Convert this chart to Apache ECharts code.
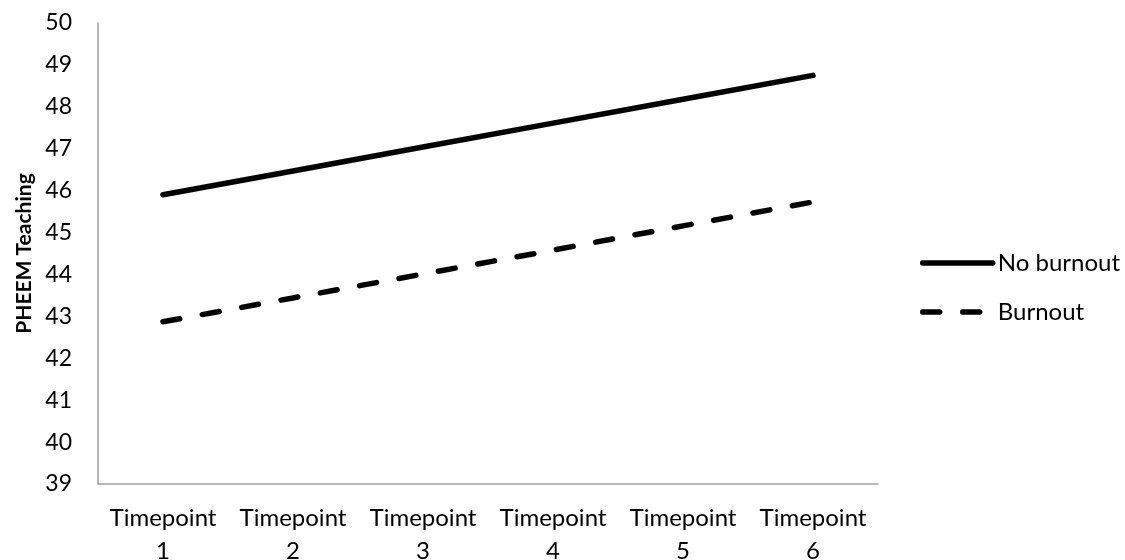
<!DOCTYPE html>
<html><head><meta charset="utf-8">
<script src="https://cdn.jsdelivr.net/npm/echarts@6/dist/echarts.min.js"></script>
<style>html,body{margin:0;padding:0;background:#fff}#c{width:1125px;height:560px}</style>
</head><body><div id="c"></div>
<script>
const categories = ['Timepoint\n1','Timepoint\n2','Timepoint\n3','Timepoint\n4','Timepoint\n5','Timepoint\n6'];
const noBurnout = [45.9, 46.47, 47.04, 47.61, 48.18, 48.75];
const burnout = [42.87, 43.44, 44.01, 44.58, 45.16, 45.73];
const yTicks = {min: 39, max: 50, interval: 1};
const FONT = 'Lato';
const chart = echarts.init(document.getElementById('c'), null, {renderer: 'canvas'});
chart.setOption({
  animation: false,
  backgroundColor: '#fff',
  grid: {left: 98, right: 247, top: 23, bottom: 76, containLabel: false, outerBoundsMode: 'none'},
  legend: {
    orient: 'vertical', left: 920, top: 251, padding: 0, itemWidth: 70, itemHeight: 24, itemGap: 25,
    itemStyle: {opacity: 0},
    lineStyle: {width: 5.5, cap: 'round'},
    textStyle: {fontFamily: FONT, fontSize: 24, color: '#000'},
    data: [{name: 'No burnout'}, {name: 'Burnout'}]
  },
  xAxis: {
    type: 'category', data: categories, boundaryGap: true,
    axisLine: {lineStyle: {color: '#a0a0a0', width: 1.5}},
    axisTick: {show: false},
    axisLabel: {fontFamily: FONT, fontSize: 24, color: '#000', lineHeight: 33, margin: 18, interval: 0}
  },
  yAxis: {
    type: 'value', min: yTicks.min, max: yTicks.max, interval: yTicks.interval,
    name: 'PHEEM Teaching', nameLocation: 'middle', nameGap: 63, nameRotate: 90,
    nameTextStyle: {fontFamily: FONT, fontSize: 21, fontWeight: 'bold', color: '#000'},
    axisLine: {show: true, lineStyle: {color: '#a0a0a0', width: 1.5}},
    axisTick: {show: false},
    splitLine: {show: false},
    axisLabel: {fontFamily: FONT, fontSize: 23, color: '#000', margin: 26}
  },
  series: [
    {name: 'No burnout', type: 'line', data: noBurnout, symbol: 'none',
     lineStyle: {color: '#000', width: 5.5, cap: 'round'}, itemStyle: {color: '#000'}},
    {name: 'Burnout', type: 'line', data: burnout, symbol: 'none',
     lineStyle: {color: '#000', width: 5.5, type: [17, 23], cap: 'round'}, itemStyle: {color: '#000'}}
  ]
});
</script></body></html>
